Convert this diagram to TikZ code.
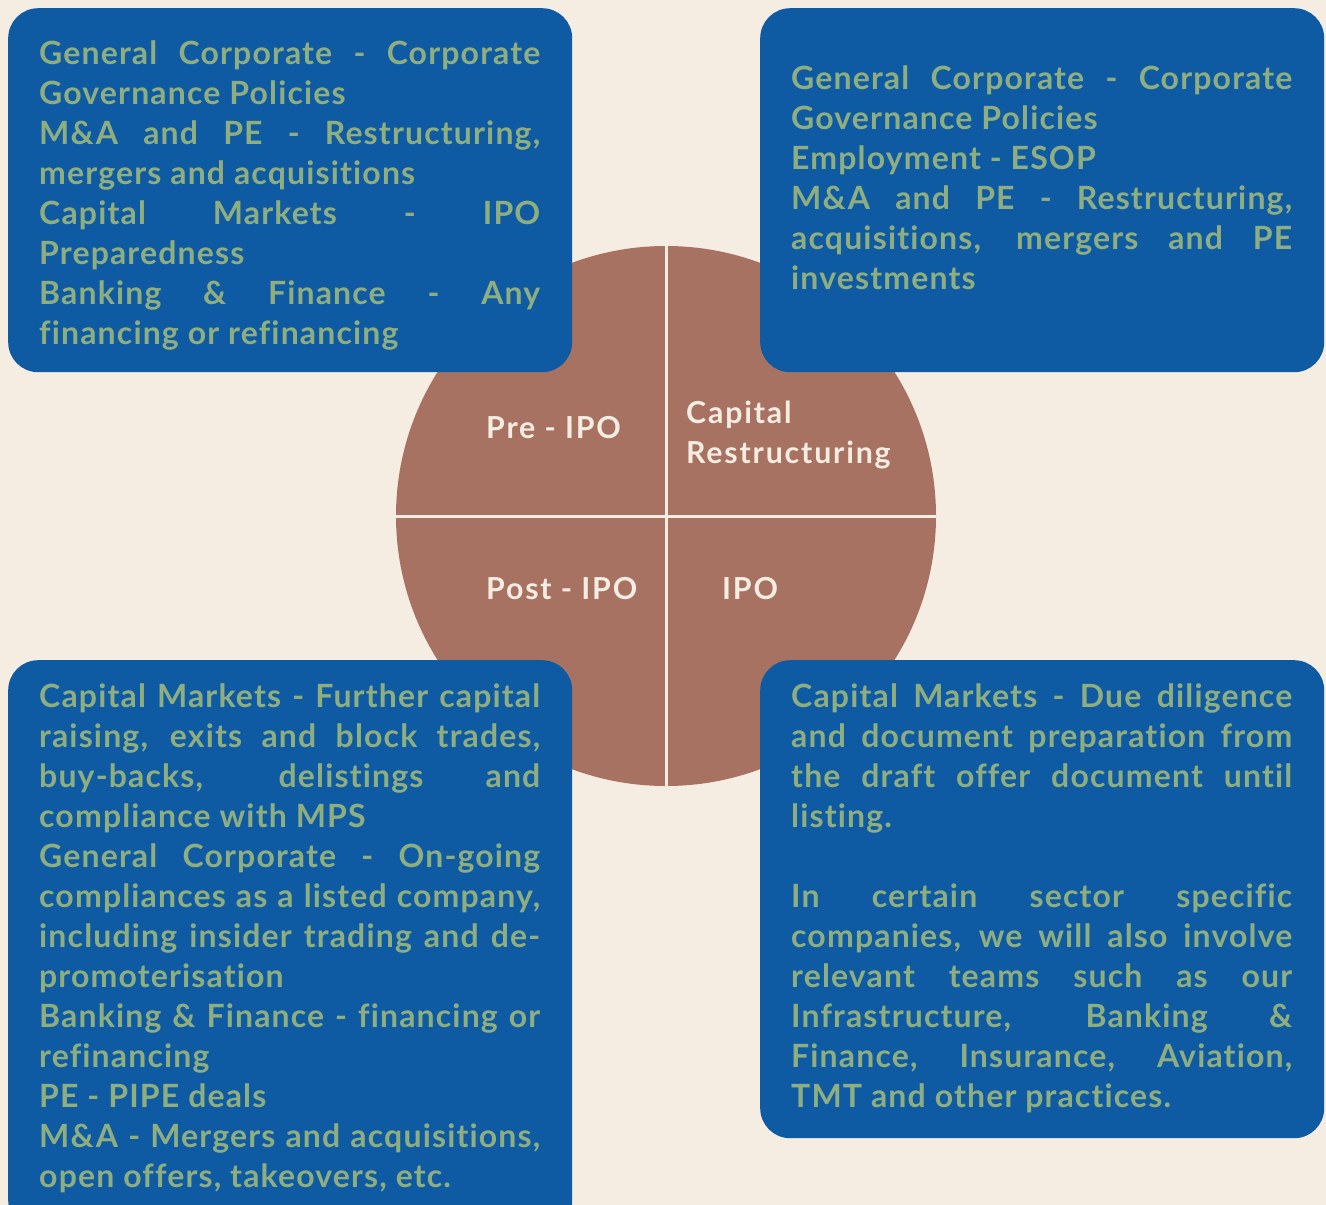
\documentclass[tikz,border=0pt]{standalone}
\usepackage{fontspec}
\setmainfont{Lato}
\newfontfamily\spacedA{Lato}[LetterSpace=3.6,Ligatures={NoCommon}]
\newfontfamily\spacedB{Lato}[LetterSpace=6,Ligatures={NoCommon}]
\definecolor{bg}{HTML}{F5EDE1}
\definecolor{boxblue}{HTML}{0F5BA3}
\definecolor{pie}{HTML}{A87262}
\definecolor{txtgreen}{HTML}{8FAE80}
\definecolor{cream}{HTML}{F5EDE1}
\newlength\bw \setlength\bw{501pt}
\newcommand\JL[1]{\hbox to \bw{#1}}
\newcommand\RL[1]{\hbox to \bw{#1\hfill}}
\newcommand\boxtext[1]{\begin{minipage}[t]{\bw}\spacedA\fontsize{32}{40}\selectfont\bfseries\spaceskip=\fontdimen2\font plus 1fil\relax\baselineskip=40pt\lineskiplimit=-100pt #1\end{minipage}}
\begin{document}
\begin{tikzpicture}[x=1pt,y=-1pt,
  bluebox/.style={fill=boxblue, rounded corners=30pt, inner sep=0, anchor=north west, minimum width=564pt},
  lbl/.style={text=cream, font=\spacedB\fontsize{30.3}{40}\selectfont\bfseries, inner sep=0, anchor=base west},
  bt/.style={inner sep=0, anchor=base west, text=txtgreen}]
\fill[bg] (0,0) rectangle (1326,1205);
\useasboundingbox (0,0) rectangle (1326,1205);
\clip (0,0) rectangle (1326,1205);
\node[circle, fill=pie, minimum size=540pt, inner sep=0] (pie) at (666,516) {};
\draw[cream, line width=3pt] (pie.north) -- (pie.south);
\draw[cream, line width=3pt] (pie.west) -- (pie.east);
\node[lbl] (pre) at (486,438) {Pre - IPO};
\node[lbl] (cap1) at (686,423) {Capital};
\node[lbl] (cap2) at (686,463) {Restructuring};
\node[lbl] (post) at (486,599) {Post - IPO};
\node[lbl] (ipo) at (722,599) {IPO};
\node[bluebox, minimum height=364pt] (tl) at (8,8) {};
\node[bluebox, minimum height=364pt] (tr) at (760,8) {};
\node[bluebox, minimum height=570pt] (bl) at (8,660) {};
\node[bluebox, minimum height=478pt] (br) at (760,660) {};
\node[bt] (tlt) at (39,64) {\boxtext{%
\JL{General Corporate - Corporate}
\RL{Governance Policies}
\JL{M\&A and PE - Restructuring,}
\RL{mergers and acquisitions}
\JL{Capital Markets - IPO}
\RL{Preparedness}
\JL{Banking \& Finance - Any}
\RL{financing or refinancing}}};
\node[bt] (trt) at (791,89) {\boxtext{%
\JL{General Corporate - Corporate}
\RL{Governance Policies}
\RL{Employment - ESOP}
\JL{M\&A and PE - Restructuring,}
\JL{acquisitions, mergers and PE}
\RL{investments}}};
\node[bt] (blt) at (39,707) {\boxtext{%
\JL{Capital Markets - Further capital}
\JL{raising, exits and block trades,}
\JL{buy-backs, delistings and}
\RL{compliance with MPS}
\JL{General Corporate - On-going}
\JL{compliances as a listed company,}
\JL{including insider trading and de-}
\RL{promoterisation}
\JL{Banking \& Finance - financing or}
\RL{refinancing}
\RL{PE - PIPE deals}
\JL{M\&A - Mergers and acquisitions,}
\RL{open offers, takeovers, etc.}}};
\node[bt] (brt) at (791,707) {\boxtext{%
\JL{Capital Markets - Due diligence}
\JL{and document preparation from}
\JL{the draft offer document until}
\RL{listing.}
\RL{}
\JL{In certain sector specific}
\JL{companies, we will also involve}
\JL{relevant teams such as our}
\JL{Infrastructure, Banking \&}
\JL{Finance, Insurance, Aviation,}
\RL{TMT and other practices.}}};
\end{tikzpicture}
\end{document}
